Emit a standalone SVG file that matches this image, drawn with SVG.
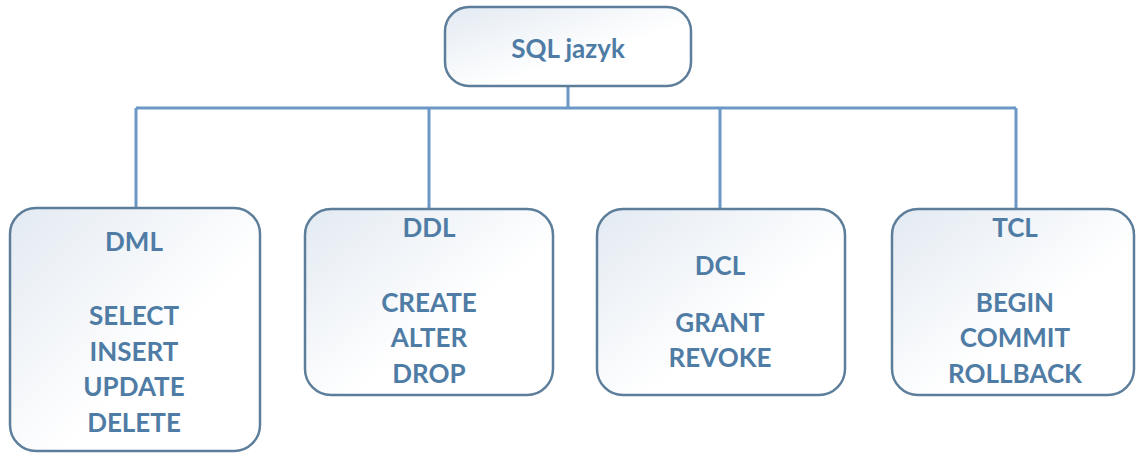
<svg xmlns="http://www.w3.org/2000/svg" width="1138" height="455" viewBox="0 0 1138 455">
<defs>
<linearGradient id="g" x1="0" y1="0" x2="1" y2="1">
<stop offset="0" stop-color="#e3eaf2"/>
<stop offset="0.6" stop-color="#ffffff"/>
</linearGradient>
<style>
.box{fill:url(#g);stroke:#5d7e9b;stroke-width:2.5}
.con{fill:none;stroke:#6b97c6;stroke-width:3}
text{font-family:Lato,"Liberation Sans",sans-serif;font-weight:bold;font-size:26px;fill:#4f7ca5;text-anchor:middle}
</style>
</defs>
<rect width="1138" height="455" fill="#ffffff"/>
<g id="connectors">
<path class="con" d="M568 86V108"/>
<path class="con" d="M136 108H1016"/>
<path class="con" d="M136 108V208"/>
<path class="con" d="M429 108V209"/>
<path class="con" d="M720 108V209"/>
<path class="con" d="M1016 108V209"/>
</g>
<g id="sql">
<rect class="box" x="445" y="7" width="246" height="79" rx="24"/>
<text x="568" y="58">SQL jazyk</text>
</g>
<g id="dml">
<rect class="box" x="10" y="208" width="250" height="243" rx="26"/>
<text x="134" y="251">DML</text>
<text x="134" y="325">SELECT</text>
<text x="134" y="361">INSERT</text>
<text x="134" y="396">UPDATE</text>
<text x="134" y="432">DELETE</text>
</g>
<g id="ddl">
<rect class="box" x="305" y="209" width="248" height="186" rx="26"/>
<text x="429" y="237">DDL</text>
<text x="429" y="312">CREATE</text>
<text x="429" y="347">ALTER</text>
<text x="429" y="383">DROP</text>
</g>
<g id="dcl">
<rect class="box" x="597" y="209" width="248" height="186" rx="26"/>
<text x="720" y="275">DCL</text>
<text x="720" y="332">GRANT</text>
<text x="720" y="367">REVOKE</text>
</g>
<g id="tcl">
<rect class="box" x="892" y="209" width="242" height="186" rx="26"/>
<text x="1015" y="237">TCL</text>
<text x="1015" y="312">BEGIN</text>
<text x="1015" y="347">COMMIT</text>
<text x="1015" y="383">ROLLBACK</text>
</g>
</svg>
